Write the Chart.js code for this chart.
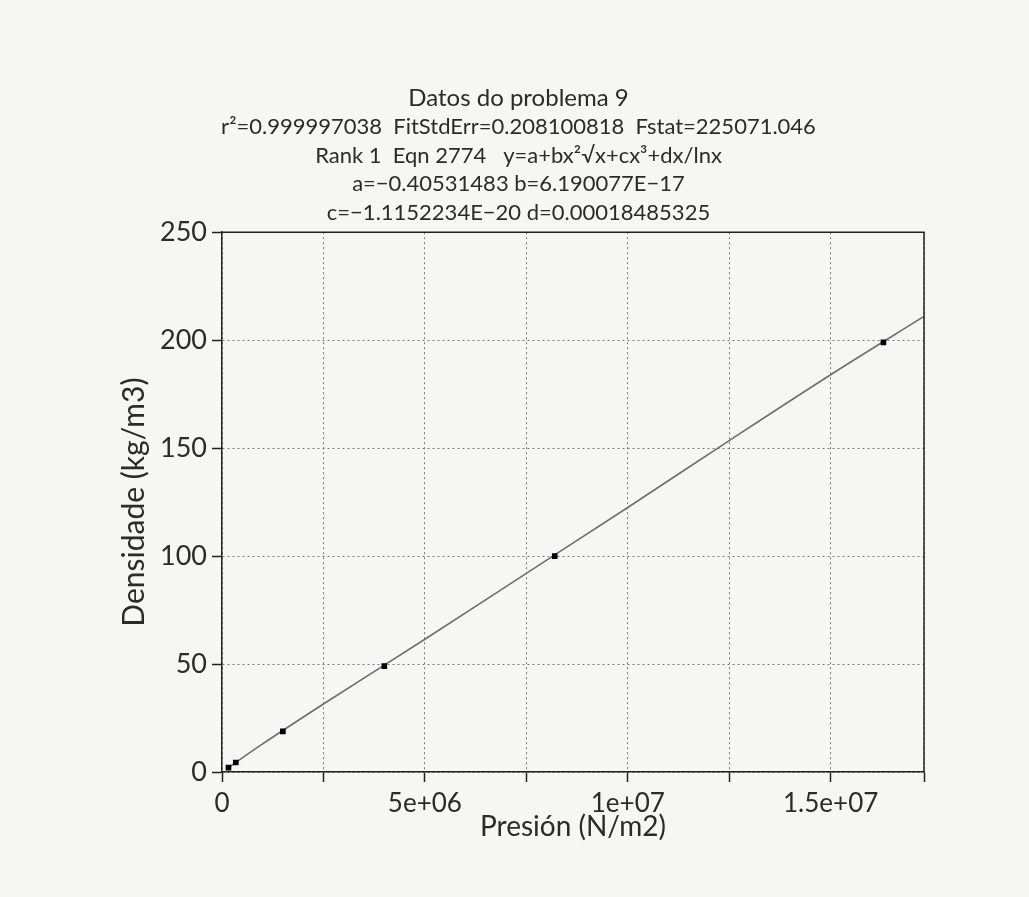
<!DOCTYPE html>
<html>
<head>
<meta charset="utf-8">
<script src="https://cdn.jsdelivr.net/npm/chart.js@4"></script>
<style>
  html, body { margin: 0; padding: 0; background: #f6f6f5; }
  canvas { display: block; }
</style>
</head>
<body>
<canvas id="grafico" width="1029" height="897"></canvas>
<script>
// datos medidos (presion en N/m2, densidade en kg/m3)
const presion = [1.6e5, 3.4e5, 1.5e6, 4.0e6, 8.2e6, 1.63e7];
const densidade = [2.0, 4.4, 18.8, 49, 100, 199];

// curva ajustada, leida do grafico
const curvaX = [1.6e5, 1e6, 2.5e6, 5e6, 7.5e6, 1e7, 1.25e7, 1.5e7, 1.73e7];
const curvaY = [2.1, 13, 31.5, 61.5, 92, 122.5, 153.5, 184, 211];

// eixos
const xMin = 0;
const xMax = 1.73e7;
const xGrade = [0, 2.5e6, 5e6, 7.5e6, 1e7, 1.25e7, 1.5e7, 1.73e7];
const xTickVals = [0, 5e6, 1e7, 1.5e7];
const xTickText = ['0', '5e+06', '1e+07', '1.5e+07'];
const yTickVals = [0, 50, 100, 150, 200, 250];
const yTickText = ['0', '50', '100', '150', '200', '250'];

const titulo = 'Datos do problema 9';
const subtitulo = [
  'r\u00B2=0.999997038  FitStdErr=0.208100818  Fstat=225071.046',
  'Rank 1  Eqn 2774   y=a+bx\u00B2\u221Ax+cx\u00B3+dx/lnx',
  'a=\u22120.40531483 b=6.190077E\u221217',
  'c=\u22121.1152234E\u221220 d=0.00018485325'
];

const fonte = 'Lato, "Open Sans", "DejaVu Sans", sans-serif';
const corTexto = '#2b2b2b';

// moldura de cima e da direita
const moldura = {
  id: 'moldura',
  afterDraw(chart) {
    const {ctx, chartArea: a} = chart;
    ctx.save();
    ctx.strokeStyle = '#222';
    ctx.lineWidth = 1.5;
    ctx.beginPath();
    ctx.moveTo(a.left, a.top);
    ctx.lineTo(a.right, a.top);
    ctx.lineTo(a.right, a.bottom);
    ctx.stroke();
    ctx.restore();
  }
};

const pontos = presion.map((p, i) => ({x: p, y: densidade[i]}));
const curva = curvaX.map((p, i) => ({x: p, y: curvaY[i]}));

new Chart(document.getElementById('grafico'), {
  type: 'scatter',
  data: {
    datasets: [
      {
        label: 'ajuste',
        data: curva,
        showLine: true,
        borderColor: '#6e6e6e',
        borderWidth: 1.6,
        pointRadius: 0,
        cubicInterpolationMode: 'monotone',
        order: 2
      },
      {
        label: 'datos',
        data: pontos,
        pointStyle: 'rect',
        pointRadius: 4,
        backgroundColor: '#000',
        borderColor: '#000',
        borderWidth: 0,
        order: 1
      }
    ]
  },
  options: {
    responsive: false,
    animation: false,
    layout: {
      padding: {left: 113, right: 105, top: 0, bottom: 49}
    },
    plugins: {
      legend: {display: false},
      tooltip: {enabled: false},
      title: {
        display: true,
        text: titulo,
        color: corTexto,
        font: {family: fonte, size: 24, weight: 'normal'},
        padding: {top: 84, bottom: 0}
      },
      subtitle: {
        display: true,
        text: subtitulo,
        color: corTexto,
        font: {family: fonte, size: 22, weight: 'normal', lineHeight: 1.3},
        padding: {top: 0, bottom: 5}
      }
    },
    scales: {
      x: {
        type: 'linear',
        min: xMin,
        max: xMax,
        afterFit(axis) { axis.height = 76; },
        afterBuildTicks(axis) { axis.ticks = xGrade.map(v => ({value: v})); },
        ticks: {
          autoSkip: false,
          maxRotation: 0,
          padding: 6,
          color: corTexto,
          font: {family: fonte, size: 26},
          callback(v) {
            const i = xTickVals.indexOf(v);
            return i >= 0 ? xTickText[i] : '';
          }
        },
        grid: {
          color: '#7a7a7a',
          lineWidth: 1,
          tickLength: 10,
          tickColor: '#222',
          tickWidth: 1.5
        },
        border: {display: true, color: '#222', width: 1.5, dash: [2, 3]},
        title: {
          display: true,
          text: 'Presión (N/m2)',
          color: corTexto,
          font: {family: fonte, size: 28},
          padding: {top: 4, bottom: 4}
        }
      },
      y: {
        type: 'linear',
        min: 0,
        max: 250,
        afterFit(axis) { axis.width = 109; },
        afterBuildTicks(axis) { axis.ticks = yTickVals.map(v => ({value: v})); },
        ticks: {
          autoSkip: false,
          padding: 5,
          color: corTexto,
          font: {family: fonte, size: 27},
          callback(v) {
            const i = yTickVals.indexOf(v);
            return i >= 0 ? yTickText[i] : '';
          }
        },
        grid: {
          color: '#7a7a7a',
          lineWidth: 1,
          tickLength: 10,
          tickColor: '#222',
          tickWidth: 1.5
        },
        border: {display: true, color: '#222', width: 1.5, dash: [2, 3]},
        title: {
          display: true,
          text: 'Densidade (kg/m3)',
          color: corTexto,
          font: {family: fonte, size: 30},
          padding: {top: 3, bottom: 3}
        }
      }
    }
  },
  plugins: [moldura]
});
</script>
</body>
</html>
